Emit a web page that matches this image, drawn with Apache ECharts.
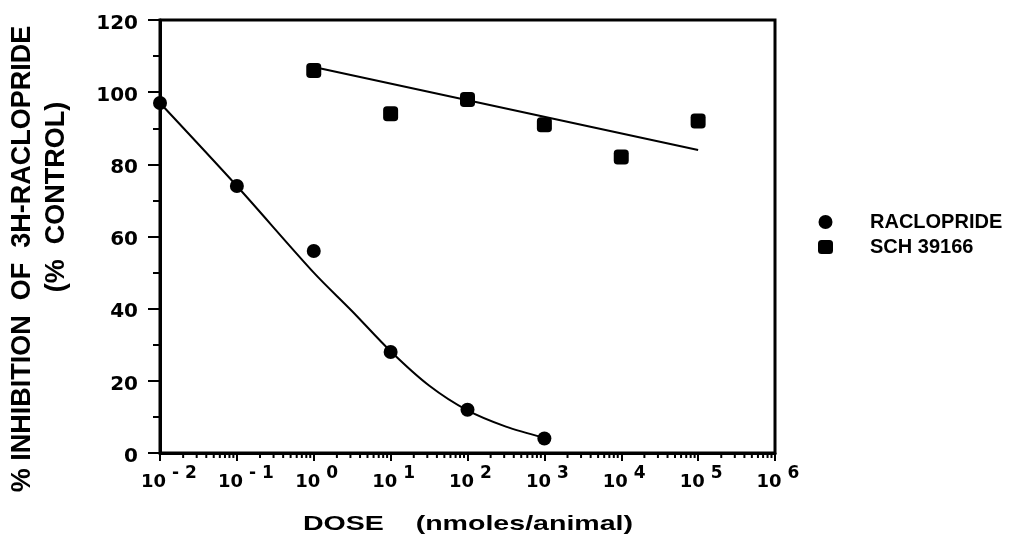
<!DOCTYPE html>
<html>
<head>
<meta charset="utf-8">
<script src="https://cdn.jsdelivr.net/npm/echarts@6/dist/echarts.min.js"></script>
<style>
  html, body { margin: 0; padding: 0; background: #fff; }
  #main { width: 1029px; height: 540px; }
</style>
</head>
<body>
<div id="main"></div>
<script>
// data
var racDose = [0.01, 0.1, 1, 10, 100, 1000];
var racValue = [97, 74, 56, 28, 12, 4];
var schDose = [1, 10, 100, 1000, 10000, 100000];
var schValue = [106, 94, 98, 91, 82, 92];

// fitted curves (traced)
var racFitDose = [0.01, 0.1, 1, 3.16, 10, 31.6, 100, 316, 1000];
var racFitValue = [97, 74, 50, 39.3, 28.2, 18.7, 11.8, 7.3, 4.2];
var schFitDose = [1, 100000];
var schFitValue = [107, 84];

// axis ticks
var xExponents = [-2, -1, 0, 1, 2, 3, 4, 5, 6];
var xMinorFactors = [2, 3, 4, 5, 6, 7, 8, 9];

function pairs(xs, ys) {
    return xs.map(function (x, i) { return [x, ys[i]]; });
}

var minorTicks = [];
xExponents.slice(0, -1).forEach(function (e) {
    xMinorFactors.forEach(function (m) {
        minorTicks.push([m * Math.pow(10, e), 0]);
    });
});

var labelFont = 'DejaVu Sans';

var myChart = echarts.init(document.getElementById('main'));

var option = {
    animation: false,
    backgroundColor: '#fff',
    grid: {
        left: 160, right: 254, top: 20, bottom: 87,
        show: true, borderColor: '#000', borderWidth: 3
    },
    legend: {
        orient: 'vertical',
        left: 813,
        top: 207,
        itemWidth: 15,
        itemHeight: 14,
        itemGap: 5,
        data: ['RACLOPRIDE', 'SCH 39166'],
        textStyle: {
            fontFamily: 'Liberation Sans', fontWeight: 'bold', fontSize: 20, color: '#000',
            padding: [0, 0, 0, 32], lineHeight: 14
        }
    },
    xAxis: {
        type: 'log',
        logBase: 10,
        min: 0.01,
        max: 1000000,
        interval: 1,
        axisLine: { lineStyle: { color: '#000', width: 3 } },
        axisTick: { show: true, length: 8, lineStyle: { color: '#000', width: 2 } },
        splitLine: { show: false },
        axisLabel: {
            margin: 12,
            formatter: function (v) {
                var e = Math.round(Math.log10(v));
                return e < 0 ? '{bn|10}{s|- ' + (-e) + '}' : '{b|10}{s|' + e + '}';
            },
            rich: {
                b: { fontFamily: labelFont, fontWeight: 'bold', fontSize: 18, color: '#000', padding: [8, 0, 0, 6] },
                bn: { fontFamily: labelFont, fontWeight: 'bold', fontSize: 18, color: '#000', padding: [8, 0, 0, 18] },
                s: { fontFamily: labelFont, fontWeight: 'bold', fontSize: 17, color: '#000', padding: [0, 0, 8, 6] }
            }
        }
    },
    yAxis: {
        type: 'value',
        min: 0,
        max: 120,
        interval: 20,
        axisLine: { show: true, lineStyle: { color: '#000', width: 3 } },
        axisTick: { show: true, length: 12, lineStyle: { color: '#000', width: 2 } },
        minorTick: { show: true, splitNumber: 2, length: 7, lineStyle: { color: '#000', width: 2 } },
        splitLine: { show: false },
        axisLabel: {
            margin: 22,
            formatter: '{v|{value}}',
            rich: {
                v: { fontFamily: labelFont, fontWeight: 'bold', fontSize: 20, color: '#000', padding: [7, 0, 0, 0] }
            }
        }
    },
    graphic: [
        {
            type: 'text', x: 23, y: 259, rotation: Math.PI / 2,
            style: {
                text: '% INHIBITION  OF  3H-RACLOPRIDE',
                fontFamily: 'Liberation Sans', fontWeight: 'bold', fontSize: 27,
                fill: '#000', align: 'center', verticalAlign: 'middle'
            }
        },
        {
            type: 'text', x: 57, y: 197, rotation: Math.PI / 2,
            style: {
                text: '(%  CONTROL)',
                fontFamily: 'Liberation Sans', fontWeight: 'bold', fontSize: 27,
                fill: '#000', align: 'center', verticalAlign: 'middle'
            }
        },
        {
            type: 'text', x: 468, y: 524, scaleX: 1.36,
            style: {
                text: 'DOSE    (nmoles/animal)',
                fontFamily: 'Liberation Sans', fontWeight: 'bold', fontSize: 21,
                fill: '#000', align: 'center', verticalAlign: 'middle'
            }
        }
    ],
    series: [
        {
            name: 'RACLOPRIDE fit',
            type: 'line',
            data: pairs(racFitDose, racFitValue),
            smooth: 0.3,
            showSymbol: false,
            lineStyle: { color: '#000', width: 2 },
            z: 2
        },
        {
            name: 'SCH 39166 fit',
            type: 'line',
            data: pairs(schFitDose, schFitValue),
            showSymbol: false,
            lineStyle: { color: '#000', width: 2 },
            z: 2
        },
        {
            name: 'RACLOPRIDE',
            type: 'scatter',
            data: pairs(racDose, racValue),
            symbol: 'circle',
            symbolSize: 14,
            itemStyle: { color: '#000', opacity: 1 },
            z: 3
        },
        {
            name: 'SCH 39166',
            type: 'scatter',
            data: pairs(schDose, schValue),
            symbol: 'roundRect',
            symbolSize: 15,
            itemStyle: { color: '#000', opacity: 1 },
            z: 3
        },
        {
            name: 'minor ticks',
            type: 'custom',
            data: minorTicks,
            silent: true,
            renderItem: function (params, api) {
                var p = api.coord([api.value(0), api.value(1)]);
                return {
                    type: 'line',
                    shape: { x1: p[0], y1: p[1], x2: p[0], y2: p[1] + 5 },
                    style: { stroke: '#000', lineWidth: 2 }
                };
            },
            z: 1
        }
    ]
};

myChart.setOption(option);
</script>
</body>
</html>
